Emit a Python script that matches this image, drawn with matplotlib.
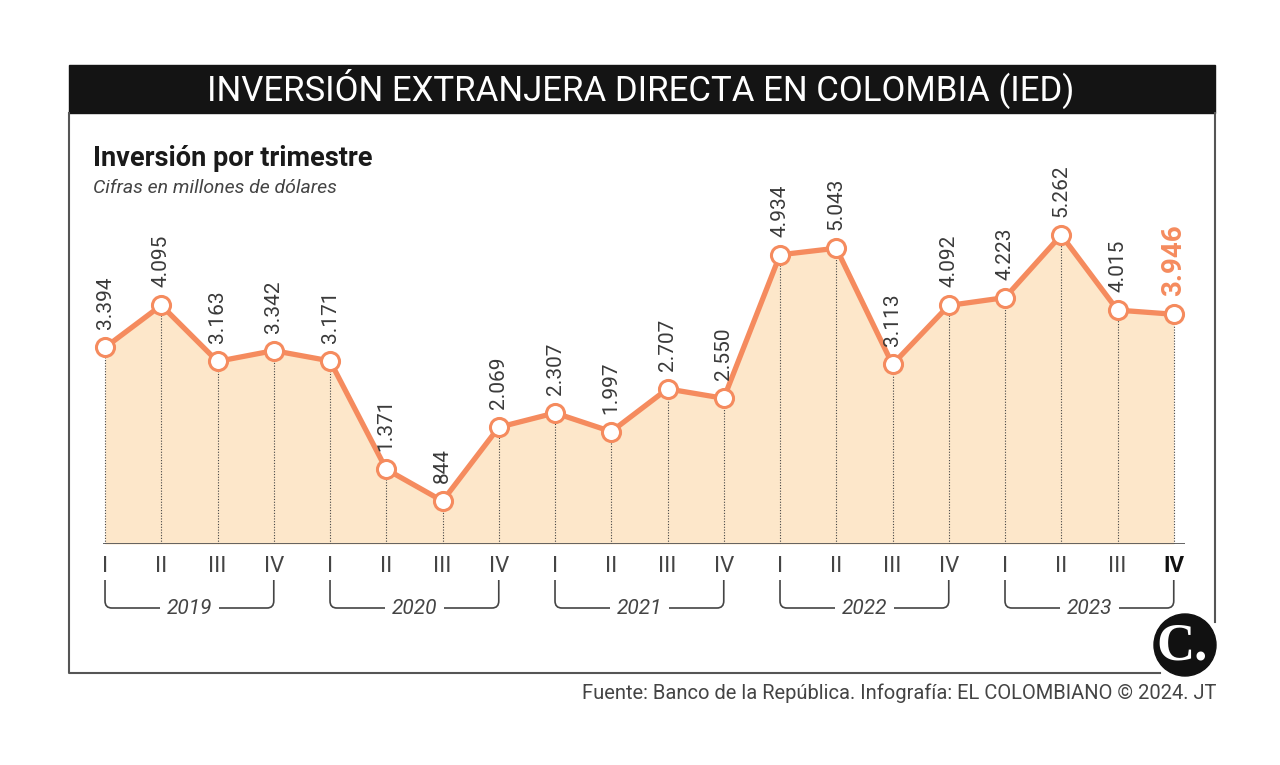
import matplotlib.pyplot as plt
from matplotlib.path import Path
from matplotlib.patches import PathPatch, Circle, Rectangle

# datos (millones de dólares)
years = ["2019", "2020", "2021", "2022", "2023"]
quarters = ["I", "II", "III", "IV"]
values = [3394, 4095, 3163, 3342,
          3171, 1371, 844, 2069,
          2307, 1997, 2707, 2550,
          4934, 5043, 3113, 4092,
          4223, 5262, 4015, 3946]

ORANGE = "#F58B5E"
FILL = "#FDE7CA"
GRAY = "#3a3a3a"

plt.rcParams["font.family"] = ["Roboto", "DejaVu Sans"]

W, H = 1280, 765
fig = plt.figure(figsize=(W / 100, H / 100), dpi=100)
fig.patch.set_facecolor("white")


def fx(px):
    return px / W


def fy(py):
    return 1 - py / H


# marco
frame = fig.add_axes([0, 0, 1, 1])
frame.set_xlim(0, W)
frame.set_ylim(H, 0)
frame.axis("off")
frame.add_patch(Rectangle((69, 65), 1146, 48, color="#141414", zorder=1))
frame.text(641, 89, "INVERSIÓN EXTRANJERA DIRECTA EN COLOMBIA (IED)",
           color="white", fontsize=25, ha="center", va="center")
frame.plot([69, 69, 1160], [113, 673, 673], color="#555555", lw=1.5)
frame.plot([1215, 1215], [113, 622], color="#555555", lw=1.5)
frame.text(93, 158, "Inversión por trimestre", fontsize=19.5, fontweight="bold",
           color="#1a1a1a", va="center")
frame.text(93, 188, "Cifras en millones de dólares", fontsize=14,
           style="italic", color="#444444", va="center")
frame.text(1216, 693, "Fuente: Banco de la República. Infografía: EL COLOMBIANO © 2024. JT",
           fontsize=14.5, color="#444444", ha="right", va="center")
frame.add_patch(Circle((1185, 645), 31, color="#111111", zorder=3))
frame.text(1182, 647, "C.", fontsize=38, fontweight="bold", color="white",
           family=["Liberation Serif", "DejaVu Serif"], ha="center", va="center", zorder=4)

# gráfico
ax = fig.add_axes([fx(103), fy(544), fx(1185 - 103), (544 - 200) / H])
ax.set_xlim(-0.036, 19.2)
ax.set_ylim(130, 5844)
ax.axis("off")

x = list(range(len(values)))
ax.fill_between(x, values, 130, color=FILL, lw=0, zorder=1)
ax.vlines(x, 130, values, colors="#444444", lw=0.8, linestyles=(0, (1, 1.5)), zorder=2)
ax.axhline(130, color="#555555", lw=2, zorder=3)
ax.plot(x, values, color=ORANGE, lw=3.8, marker="o", ms=13,
        mfc="white", mec=ORANGE, mew=2.2, zorder=5, clip_on=False)

for i, v in enumerate(values):
    lab = f"{v:,}".replace(",", ".")
    last = i == len(values) - 1
    ax.annotate(lab, (i, v), xytext=(0, 13), textcoords="offset points",
                rotation=90, ha="center", va="bottom",
                fontsize=20 if last else 15,
                fontweight="bold" if last else "normal",
                color=ORANGE if last else GRAY, zorder=6)

# eje de trimestres y años
tr = ax.get_xaxis_transform()


def ya(py):
    return (544 - py) / 344


for i in x:
    last = i == len(values) - 1
    ax.text(i, ya(566), quarters[i % 4], transform=tr, ha="center", va="center",
            fontsize=16, color="#111111" if last else "#444444",
            fontweight="bold" if last else "normal", clip_on=False)

r = 0.12
for k, yr in enumerate(years):
    a, b = 4 * k, 4 * k + 3
    y0, y1 = ya(580), ya(608)
    dy = (y0 - y1) * 0.25
    verts = [(a, y0), (a, y1 + dy), (a, y1), (a + r, y1), (b - r, y1),
             (b, y1), (b, y1 + dy), (b, y0)]
    codes = [Path.MOVETO, Path.LINETO, Path.CURVE3, Path.CURVE3, Path.LINETO,
             Path.CURVE3, Path.CURVE3, Path.LINETO]
    ax.add_patch(PathPatch(Path(verts, codes), transform=tr, fill=False,
                           ec="#444444", lw=1.2, clip_on=False))
    ax.text((a + b) / 2, y1, yr, transform=tr, ha="center", va="center",
            fontsize=15, style="italic", color="#444444", clip_on=False,
            bbox=dict(fc="white", ec="none", pad=5))

fig.savefig("out.png", dpi=100)
